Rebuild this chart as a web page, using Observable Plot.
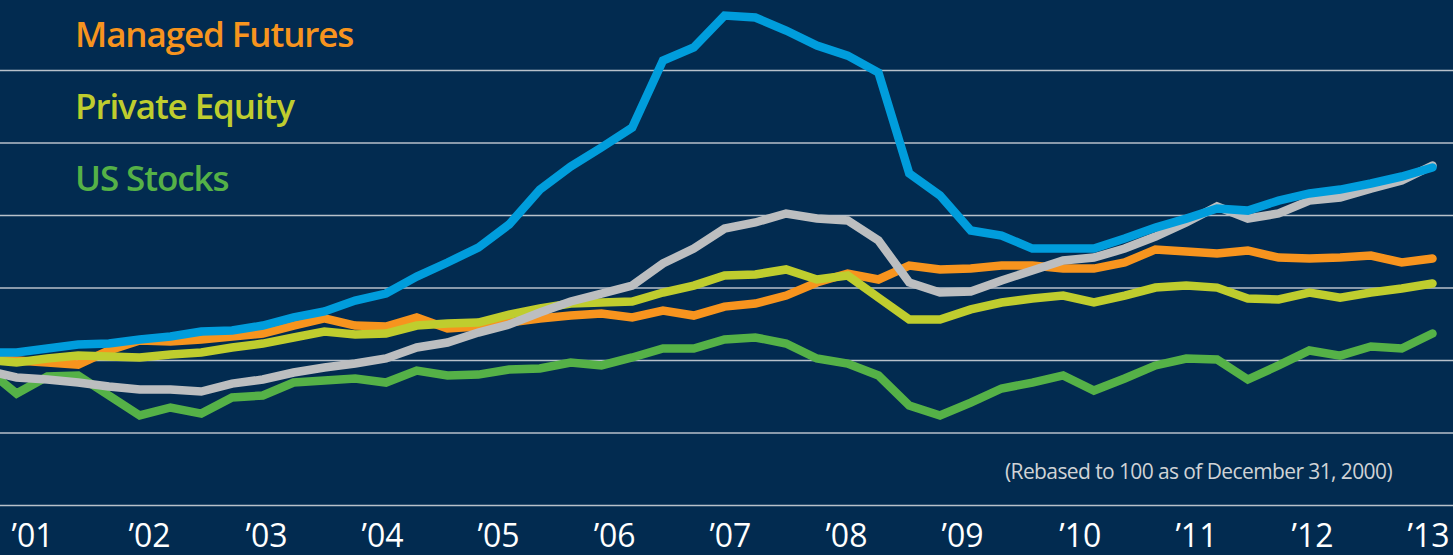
<!DOCTYPE html>
<html>
<head>
<meta charset="utf-8">
<script src="https://cdn.jsdelivr.net/npm/d3@7"></script>
<script src="https://cdn.jsdelivr.net/npm/@observablehq/plot@0.6"></script>
<style>
  html, body { margin: 0; padding: 0; background: #022b50; }
  #wrap { position: relative; width: 1453px; height: 555px; overflow: hidden; background: #022b50; }
  #legend { position: absolute; left: 75px; top: -2px; font-family: "Open Sans", sans-serif; font-weight: 600; font-size: 35px; line-height: 72px; letter-spacing: -1.1px; }
  #note { position: absolute; right: 61px; top: 461px; font-family: "Open Sans", sans-serif; font-size: 21px; line-height: 21px; color: #d0d3d6; letter-spacing: -0.6px; white-space: nowrap; }
</style>
</head>
<body>
<div id="wrap"><div id="legend"></div><div id="note"></div></div>
<script>
// Quarter index (one point per quarter)
const quarterIndex = d3.range(48);

// Series values (rebased index)
const managedFutures = [101.4,100.0,98.6,97.2,106.9,113.8,113.1,114.5,116.6,118.6,124.1,129.0,124.1,123.4,129.7,122.1,123.4,126.2,129.0,131.0,132.4,129.7,134.5,131.0,137.2,139.3,144.8,153.8,160.0,155.9,165.5,162.8,163.4,165.5,165.5,163.4,163.4,167.6,176.6,175.2,173.8,175.9,171.0,170.3,171.0,172.4,167.6,170.3];
const privateEquity = [100.7,98.6,101.4,103.4,102.8,102.1,104.1,105.5,109.0,111.7,115.9,120.0,117.9,118.6,124.1,125.5,126.2,131.7,135.9,139.3,140.0,140.7,146.9,151.7,158.6,159.3,162.8,155.9,158.6,143.4,128.3,128.3,135.2,140.0,142.8,144.8,140.0,144.8,150.3,151.7,150.3,142.8,142.1,146.9,143.4,146.9,149.7,153.1];
const usStocks = [94.5,77.2,89.0,89.7,75.9,62.1,67.6,63.4,74.5,75.9,84.8,86.2,87.6,84.8,93.1,89.7,90.3,93.8,94.5,98.6,96.6,102.1,108.3,108.3,114.5,115.9,111.7,101.4,97.9,89.7,69.0,62.1,71.0,80.7,84.8,89.7,79.3,87.6,96.6,101.4,100.7,86.9,96.6,106.9,103.4,109.7,108.3,118.6];
const blueSeries = [105.5,105.5,108.3,111.0,111.7,114.5,116.6,120.0,120.7,124.1,129.7,133.8,141.4,146.2,157.9,167.6,177.9,193.8,217.9,233.8,246.9,260.7,306.9,315.9,337.9,336.6,327.6,317.2,310.3,298.6,229.0,213.8,189.7,186.2,177.2,177.2,177.2,184.1,191.7,197.9,204.8,203.4,210.3,215.2,217.9,222.1,226.9,233.1];
const graySeries = [93.1,88.3,86.9,84.8,82.1,80.0,80.0,78.6,84.1,86.9,91.7,95.2,97.9,101.4,109.0,112.4,119.3,124.8,133.1,140.7,146.2,151.7,166.9,177.2,191.0,195.2,201.4,197.9,196.6,182.8,153.8,146.9,147.6,155.2,162.1,169.0,171.0,177.2,185.5,195.2,206.2,197.9,201.4,210.3,212.4,218.6,224.1,234.5];

// Axis labels and their places on the quarter axis
const yearLabels = ["\u201901","\u201902","\u201903","\u201904","\u201905","\u201906","\u201907","\u201908","\u201909","\u201910","\u201911","\u201912","\u201913"];
const yearTickAt = [1.52,5.32,9.12,12.89,16.66,20.43,24.19,27.96,31.73,35.56,39.33,43.10,46.87];
const gridValues = [0,50,100,150,200,250,300];

const legendNames = ["Managed Futures","Private Equity","US Stocks"];
const note = "(Rebased to 100 as of December 31, 2000)";

const colors = {
  "Managed Futures": "#f7941e",
  "Private Equity": "#bfcd2e",
  "US Stocks": "#55b147",
  "Blue": "#009ddc",
  "Gray": "#bcbec0"
};

const table = (name, vals) => quarterIndex.map((q, k) => ({q, v: vals[k], name}));
const drawOrder = [
  ["US Stocks", usStocks],
  ["Managed Futures", managedFutures],
  ["Private Equity", privateEquity],
  ["Gray", graySeries],
  ["Blue", blueSeries]
];

const lineMarks = drawOrder.map(([name, vals]) =>
  Plot.line(table(name, vals), {
    x: "q", y: "v", stroke: colors[name], strokeWidth: 8.5,
    strokeLinecap: "round", strokeLinejoin: "miter", strokeMiterlimit: 3
  })
);

const chart = Plot.plot({
  width: 1453,
  height: 555,
  marginTop: 0,
  marginBottom: 50,
  marginLeft: 0,
  marginRight: 0,
  style: { background: "transparent", fontFamily: "Open Sans, sans-serif", overflow: "hidden" },
  x: { domain: [0, 47], range: [-14.7, 1432] },
  y: { domain: [0, 348.3] },
  marks: [
    Plot.ruleY(gridValues, { stroke: "#b9c1ca", strokeWidth: 1.4 }),
    ...lineMarks,
    Plot.axisX({
      ticks: yearTickAt,
      tickFormat: (d, i) => yearLabels[i],
      tickSize: 0,
      tickPadding: 19,
      fontSize: 32,
      color: "#ffffff",
      label: null
    }),
    Plot.axisY({ ticks: [], label: null, tickSize: 0 })
  ]
});

const wrap = document.getElementById("wrap");
wrap.insertBefore(chart, wrap.firstChild);
chart.style.position = "absolute";
chart.style.left = "0px";
chart.style.top = "0px";

const legend = document.getElementById("legend");
legendNames.forEach(n => {
  const d = document.createElement("div");
  d.textContent = n;
  d.style.color = colors[n];
  legend.appendChild(d);
});
document.getElementById("note").textContent = note;
</script>
</body>
</html>
